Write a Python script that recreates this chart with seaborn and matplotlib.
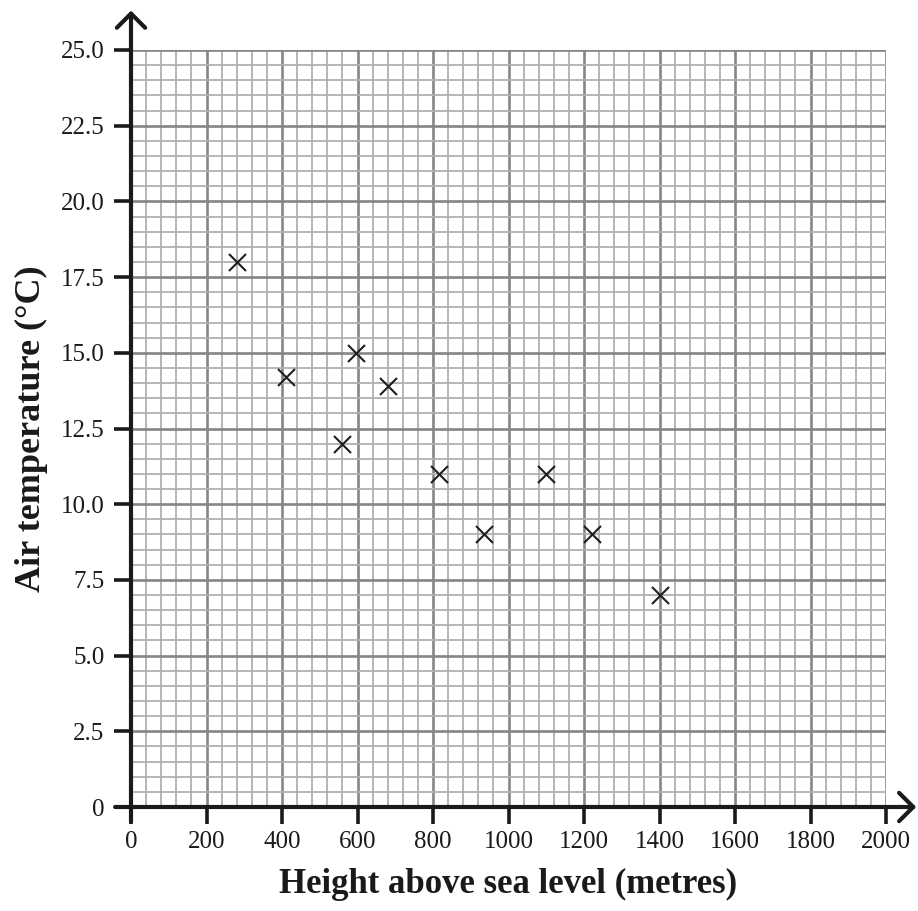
import matplotlib
matplotlib.use("Agg")
import matplotlib.pyplot as plt
import seaborn as sns
import pandas as pd
import numpy as np

# Data
height_m = [280, 410, 560, 595, 680, 815, 935, 1100, 1220, 1400]
air_temp_c = [18.0, 14.2, 12.0, 15.0, 13.9, 11.0, 9.0, 11.0, 9.0, 7.0]
x_ticks = [0, 200, 400, 600, 800, 1000, 1200, 1400, 1600, 1800, 2000]
y_ticks = [0, 2.5, 5.0, 7.5, 10.0, 12.5, 15.0, 17.5, 20.0, 22.5, 25.0]
y_tick_labels = ["0", "2.5", "5.0", "7.5", "10.0", "12.5", "15.0", "17.5", "20.0", "22.5", "25.0"]

df = pd.DataFrame({"height": height_m, "temp": air_temp_c})

sns.set_theme(style="white")
plt.rcParams["font.family"] = ["Liberation Serif", "DejaVu Serif"]

fig = plt.figure(figsize=(9.18, 9.11), dpi=100)
ax = fig.add_axes([131/918, (911-807)/911, 755/918, 757/911])

ax.set_xlim(0, 2000)
ax.set_ylim(0, 25)

# graph-paper grid
ax.set_xticks(x_ticks)
ax.set_yticks(y_ticks)
ax.set_xticks(np.arange(0, 2001, 40), minor=True)
ax.set_yticks(np.arange(0, 25.01, 0.5), minor=True)
ax.grid(which="minor", color="#b0b0b0", linewidth=1.3, zorder=0)
ax.grid(which="major", color="#868686", linewidth=1.9, zorder=0.5)
ax.set_axisbelow(True)

sns.scatterplot(data=df, x="height", y="temp", marker="x", s=150,
                color="#1e1e1e", linewidth=1.5, ax=ax, zorder=5)

ax.set_xticklabels([str(t) for t in x_ticks], fontsize=18)
ax.set_yticklabels(y_tick_labels, fontsize=18)
ax.tick_params(which="major", length=12, width=2.6, color="#1a1a1a",
               labelcolor="#1a1a1a", bottom=True, left=True)
ax.tick_params(axis="x", which="major", pad=5)
ax.tick_params(axis="y", which="major", pad=7)
ax.tick_params(which="minor", length=0)

for s in ax.spines.values():
    s.set_visible(False)

# axes with arrows
ax.annotate("", xy=(0, 1.052), xytext=(0, -0.02), xycoords="axes fraction",
            arrowprops=dict(arrowstyle="->,head_length=0.85,head_width=0.85",
                            lw=3, color="#1a1a1a", shrinkA=0, shrinkB=0),
            annotation_clip=False)
ax.annotate("", xy=(1.04, 0), xytext=(-0.021, 0), xycoords="axes fraction",
            arrowprops=dict(arrowstyle="->,head_length=0.85,head_width=0.85",
                            lw=3, color="#1a1a1a", shrinkA=0, shrinkB=0),
            annotation_clip=False)

ax.set_xlabel("")
ax.set_ylabel("")
fig.text(508/918, (911-884)/911, "Height above sea level (metres)", fontsize=25,
         fontweight="bold", ha="center", va="center", color="#1a1a1a")
fig.text(31/918, (911-429)/911, "Air temperature (°C)", fontsize=26,
         fontweight="bold", ha="center", va="center", rotation=90, color="#1a1a1a")

fig.savefig("out.png", dpi=100)
